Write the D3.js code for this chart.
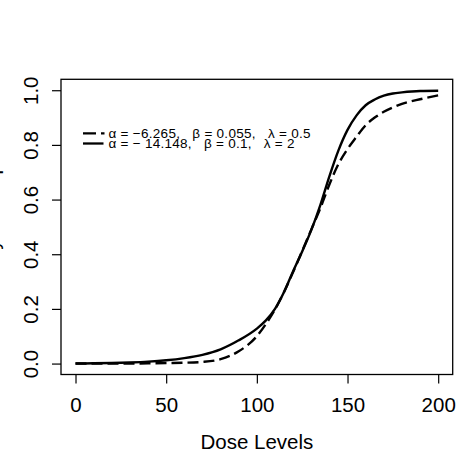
<!DOCTYPE html>
<html>
<head>
<meta charset="utf-8">
<script src="https://cdn.jsdelivr.net/npm/d3@7"></script>
<style>
  body { margin: 0; background: #fff; }
  svg { display: block; }
  text { font-family: "Liberation Sans", Arial, Helvetica, sans-serif; fill: #000; }
</style>
</head>
<body>
<div id="chart"></div>
<script>
// dose grid and the two curves
const doses = [0, 10, 20, 30, 40, 50, 60, 70, 80, 90, 100, 105, 110, 115, 120, 125, 130, 135, 140, 145, 150, 155, 160, 165, 170, 175, 180, 190, 200]
const probDashed = [0.000, 0.000, 0.000, 0.000, 0.001, 0.002, 0.003, 0.006, 0.016, 0.045, 0.100, 0.145, 0.198, 0.262, 0.335, 0.412, 0.490, 0.568, 0.655, 0.730, 0.785, 0.830, 0.872, 0.900, 0.921, 0.937, 0.950, 0.967, 0.981]
const probSolid = [0.000, 0.001, 0.002, 0.004, 0.007, 0.012, 0.020, 0.032, 0.052, 0.085, 0.128, 0.158, 0.200, 0.262, 0.338, 0.410, 0.488, 0.580, 0.685, 0.780, 0.855, 0.908, 0.945, 0.966, 0.980, 0.988, 0.992, 0.997, 0.998]

const xTicks = [0, 50, 100, 150, 200]
const yTicks = [0, 0.2, 0.4, 0.6, 0.8, 1.0]
const legendLabels = ["\u03b1 = \u22126.265,   \u03b2 = 0.055,   \u03bb = 0.5", "\u03b1 = \u2212 14.148,   \u03b2 = 0.1,   \u03bb = 2"]
const xTitle = "Dose Levels"
const yTitle = "Probability of Response"

class DoseChart {
  constructor({width, height, box}) {
    this.width = width
    this.height = height
    this.box = box

    this.x = d3.scaleLinear().domain([-8, 208]).range([box.left, box.right])
    this.y = d3.scaleLinear().domain([-0.04, 1.04]).range([box.bottom, box.top])
    this.svg = this.createSVG()

    this.drawAxes()
    this.drawCurves()
    this.drawLegend()
  }

  createSVG() {
    return d3.select("#chart")
    .append("svg")
    .attr("width", this.width)
    .attr("height", this.height)
  }

  drawAxes() {
    const b = this.box

    const xAxis = this.svg.append("g")
    .attr("transform", `translate(0,${b.bottom})`)
    .call(d3.axisBottom(this.x).tickValues(xTicks).tickSize(9).tickPadding(13.6))
    xAxis.select(".domain").remove()
    xAxis.selectAll("text").attr("font-size", 20.5).attr("font-family", null)

    const yAxis = this.svg.append("g")
    .attr("transform", `translate(${b.left},0)`)
    .call(d3.axisLeft(this.y).tickValues(yTicks).tickSize(9).tickFormat(d3.format(".1f")))
    yAxis.select(".domain").remove()
    yAxis.selectAll("text")
    .attr("x", null)
    .attr("dy", null)
    .attr("text-anchor", "middle")
    .attr("font-size", 20.5)
    .attr("font-family", null)
    .attr("transform", "translate(-23.3,0) rotate(-90)")

    this.svg.selectAll(".tick line").attr("stroke", "#000").attr("stroke-width", 1.2)

    this.svg.append("rect")
    .attr("x", b.left)
    .attr("y", b.top)
    .attr("width", b.right - b.left)
    .attr("height", b.bottom - b.top)
    .attr("fill", "none")
    .attr("stroke", "#000")
    .attr("stroke-width", 1.3)

    this.svg.append("text")
    .attr("x", (this.x(0) + this.x(200)) / 2)
    .attr("y", 449.3)
    .attr("text-anchor", "middle")
    .attr("font-size", 20.5)
    .text(xTitle)

    // y title sits mostly outside the left edge, only descenders show
    this.svg.append("text")
    .attr("transform", "rotate(-90)")
    .attr("x", -(b.top + b.bottom) / 2)
    .attr("y", -1)
    .attr("text-anchor", "middle")
    .attr("font-size", 20.5)
    .text(yTitle)
  }

  drawCurves() {
    const line = d3.line()
    .x(d => this.x(d[0]))
    .y(d => this.y(d[1]))
    .curve(d3.curveMonotoneX)

    this.svg.append("path")
    .datum(d3.zip(doses, probDashed))
    .attr("d", line)
    .attr("fill", "none")
    .attr("stroke", "#000")
    .attr("stroke-width", 2.4)
    .attr("stroke-dasharray", "11,5")

    this.svg.append("path")
    .datum(d3.zip(doses, probSolid))
    .attr("d", line)
    .attr("fill", "none")
    .attr("stroke", "#000")
    .attr("stroke-width", 2.4)
  }

  drawLegend() {
    const rows = [
      {y: 133.3, dash: "13,5", x2: 104.5, width: 202},
      {y: 143.5, dash: null, x2: 103.5, width: 186}
    ]

    const g = this.svg.append("g")
    rows.forEach((r, i) => {
      g.append("line")
      .attr("x1", 83).attr("x2", r.x2)
      .attr("y1", r.y).attr("y2", r.y)
      .attr("stroke", "#000")
      .attr("stroke-width", 2.3)
      .attr("stroke-dasharray", r.dash)

      g.append("text")
      .attr("x", 108.5)
      .attr("y", r.y + 4.8)
      .attr("font-size", 13.5)
      .attr("textLength", r.width)
      .attr("lengthAdjust", "spacing")
      .style("white-space", "pre")
      .text(legendLabels[i])
    })
  }
}

new DoseChart({
  width: 474,
  height: 474,
  box: {left: 61, right: 452.7, top: 79.3, bottom: 374.5}
})
</script>
</body>
</html>
